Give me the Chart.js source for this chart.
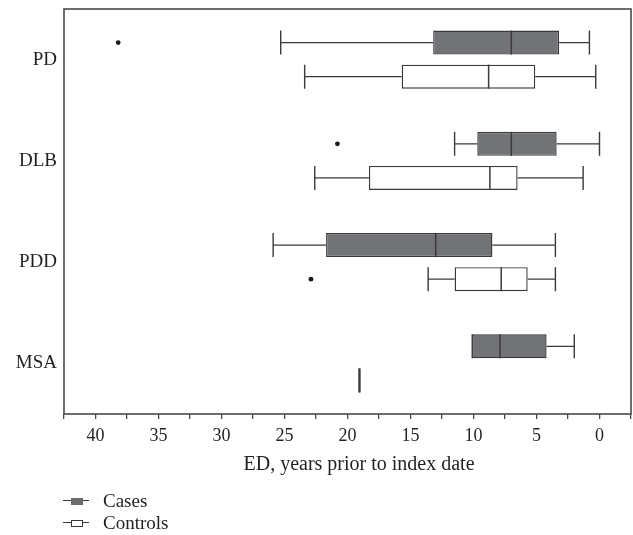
<!DOCTYPE html>
<html>
<head>
<meta charset="utf-8">
<script src="https://cdn.jsdelivr.net/npm/chart.js@4"></script>
<style>
  body { margin: 0; background: #fff; }
  #wrap { position: relative; width: 633px; height: 535px; }
  #axisTitle {
    position: absolute; left: 209px; width: 300px; top: 452px;
    text-align: center; font: 20px 'Liberation Serif', serif; color: #231f20;
  }
  .legend-row {
    position: absolute; left: 63px; height: 22px; display: flex; align-items: center;
    font: 19px 'Liberation Serif', serif; color: #231f20;
  }
  .sym { position: relative; width: 26px; height: 10px; margin-right: 14px; }
  .sym .ln { position: absolute; left: 0; right: 0; top: 4px; height: 1.3px; background: #3a3a3a; }
  .sym .bx { position: absolute; left: 8px; top: 2px; width: 10px; height: 5px; }
</style>
</head>
<body>
<div id="wrap">
  <canvas id="boxChart" width="633" height="535"></canvas>
  <div id="axisTitle">ED, years prior to index date</div>
  <div class="legend-row" style="top:490px">
    <span class="sym"><span class="ln"></span><span class="bx" style="background:#6b6c6f;border:1px solid #6b6c6f"></span></span>Cases
  </div>
  <div class="legend-row" style="top:512px">
    <span class="sym"><span class="ln"></span><span class="bx" style="background:#fff;border:1px solid #3a3a3a"></span></span>Controls
  </div>
</div>
<script>
const diagnoses = ['PD', 'DLB', 'PDD', 'MSA'];

// years prior to index date
const casesWhiskerLow = [25.3, 11.5, 25.9, 10.1];
const casesQ1 = [13.2, 9.7, 21.7, 10.1];
const casesMedian = [7.0, 7.0, 13.0, 7.9];
const casesQ3 = [3.2, 3.4, 8.5, 4.2];
const casesWhiskerHigh = [0.8, 0.0, 3.5, 2.0];
const casesOutliers = [[38.2], [20.8], [], []];

const controlsWhiskerLow = [23.4, 22.6, 13.6, 19.05];
const controlsQ1 = [15.7, 18.3, 11.5, 19.05];
const controlsMedian = [8.8, 8.7, 7.8, 19.05];
const controlsQ3 = [5.1, 6.5, 5.7, 19.05];
const controlsWhiskerHigh = [0.3, 1.3, 3.5, 19.05];
const controlsOutliers = [[], [], [22.9], []];

const xTicks = [40, 35, 30, 25, 20, 15, 10, 5, 0];

const lineColor = '#3a3a3a';
const casesFill = '#727376';

const summaries = [
  { low: casesWhiskerLow, med: casesMedian, high: casesWhiskerHigh, out: casesOutliers },
  { low: controlsWhiskerLow, med: controlsMedian, high: controlsWhiskerHigh, out: controlsOutliers }
];

const boxExtras = {
  id: 'boxExtras',
  afterDatasetsDraw(chart) {
    const ctx = chart.ctx;
    const x = chart.scales.x;
    ctx.save();
    ctx.strokeStyle = lineColor;
    ctx.lineWidth = 1.4;
    summaries.forEach((s, d) => {
      const meta = chart.getDatasetMeta(d);
      const ds = chart.data.datasets[d];
      meta.data.forEach((bar, i) => {
        const y = bar.y;
        const h = bar.height / 2;
        const q = ds.data[i];
        const lo = x.getPixelForValue(s.low[i]);
        const hi = x.getPixelForValue(s.high[i]);
        const qLo = x.getPixelForValue(Math.max(q[0], q[1]));
        const qHi = x.getPixelForValue(Math.min(q[0], q[1]));
        const md = x.getPixelForValue(s.med[i]);
        ctx.beginPath();
        ctx.moveTo(lo, y); ctx.lineTo(qLo, y);
        ctx.moveTo(qHi, y); ctx.lineTo(hi, y);
        ctx.moveTo(lo, y - h); ctx.lineTo(lo, y + h);
        ctx.moveTo(hi, y - h); ctx.lineTo(hi, y + h);
        ctx.stroke();
        ctx.beginPath();
        ctx.lineWidth = (q[0] === q[1]) ? 2.2 : 1.5;
        ctx.moveTo(md, y - h); ctx.lineTo(md, y + h);
        ctx.stroke();
        ctx.lineWidth = 1.4;
        ctx.fillStyle = '#1a1a1a';
        s.out[i].forEach(v => {
          ctx.beginPath();
          ctx.arc(x.getPixelForValue(v), y, 2.4, 0, Math.PI * 2);
          ctx.fill();
        });
      });
    });
    // frame round the plot
    const a = chart.chartArea;
    ctx.strokeStyle = '#4a4a4a';
    ctx.lineWidth = 1.6;
    ctx.strokeRect(a.left, a.top, a.right - a.left, a.bottom - a.top);
    ctx.restore();
  }
};

new Chart(document.getElementById('boxChart'), {
  type: 'bar',
  data: {
    labels: diagnoses,
    datasets: [{
      label: 'Cases',
      data: diagnoses.map((_, i) => [casesQ1[i], casesQ3[i]]),
      backgroundColor: casesFill,
      borderColor: lineColor,
      borderWidth: 1.4,
      borderSkipped: false,
      categoryPercentage: 0.672,
      barPercentage: 0.706
    }, {
      label: 'Controls',
      data: diagnoses.map((_, i) => [controlsQ1[i], controlsQ3[i]]),
      backgroundColor: '#ffffff',
      borderColor: lineColor,
      borderWidth: 1.4,
      borderSkipped: false,
      categoryPercentage: 0.672,
      barPercentage: 0.706
    }]
  },
  options: {
    indexAxis: 'y',
    responsive: false,
    animation: false,
    layout: {
      padding: { top: 9, right: 2, left: 0, bottom: 86 }
    },
    plugins: {
      legend: { display: false },
      tooltip: { enabled: false }
    },
    scales: {
      x: {
        type: 'linear',
        reverse: true,
        min: -2.5,
        max: 42.5,
        afterFit: (scale) => {
          scale.height = 35;
          scale.paddingLeft = 0;
          scale.paddingRight = 0;
        },
        afterBuildTicks: (scale) => {
          const t = [];
          for (let v = -2.5; v <= 42.5; v += 2.5) t.push({ value: v });
          scale.ticks = t;
        },
        border: { display: false },
        grid: {
          drawOnChartArea: false,
          drawTicks: true,
          tickLength: 5,
          color: '#4a4a4a',
          lineWidth: 1.3
        },
        ticks: {
          autoSkip: false,
          maxRotation: 0,
          padding: 6,
          color: '#231f20',
          font: { family: "'Liberation Serif', serif", size: 18 },
          callback: (v) => xTicks.includes(v) ? String(v) : ''
        }
      },
      y: {
        type: 'category',
        afterFit: (scale) => {
          scale.width = 64;
          scale.paddingTop = 0;
          scale.paddingBottom = 0;
        },
        border: { display: false },
        grid: { display: false, drawTicks: false },
        ticks: {
          padding: 7,
          color: '#231f20',
          font: { family: "'Liberation Serif', serif", size: 19 }
        }
      }
    }
  },
  plugins: [boxExtras]
});
</script>
</body>
</html>
